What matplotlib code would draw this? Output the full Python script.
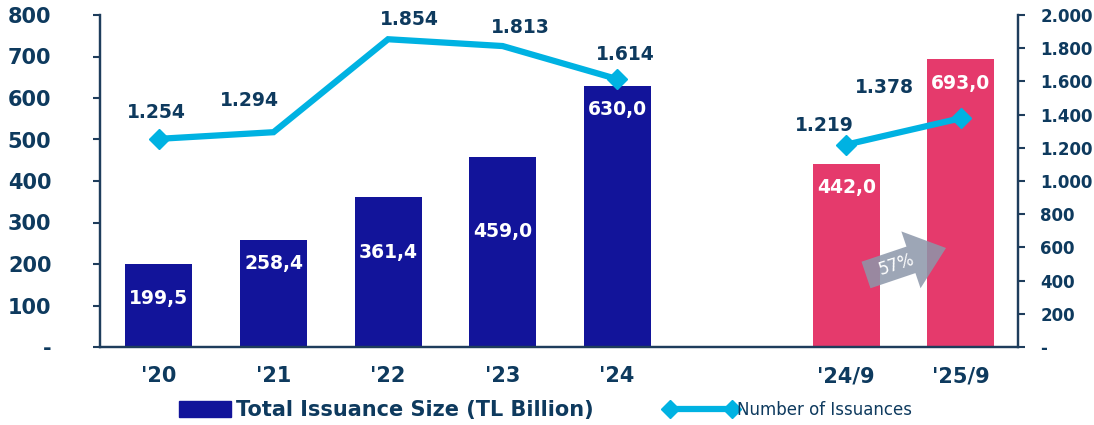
import matplotlib
matplotlib.use("Agg")
import matplotlib.pyplot as plt
from matplotlib.lines import Line2D
from matplotlib.patches import Patch, FancyArrow
from matplotlib.ticker import FixedLocator, FuncFormatter
import numpy as np

# ---- data ----
categories = ["'20", "'21", "'22", "'23", "'24", "'24/9", "'25/9"]
issuance_size = [199.5, 258.4, 361.4, 459.0, 630.0, 442.0, 693.0]
issuance_count = [1254, 1294, 1854, 1813, 1614, 1219, 1378]
annual_idx = [0, 1, 2, 3, 4]
ytd_idx = [5, 6]
growth_label = "57%"
bar_legend = "Total Issuance Size (TL Billion)"
line_legend = "Number of Issuances"

# ---- style ----
NAVY = "#12149A"
PINK = "#E53A6C"
CYAN = "#00B2E2"
TXT = "#0E3A5E"
SPINE = "#1E3D5C"

positions = [0, 1, 2, 3, 4, 6, 7]
bar_colors = [NAVY] * 5 + [PINK] * 2
# label offsets (points, from bar top) for bar value labels
bar_lbl_off = [-25, -17, -40, -54, -17, -17, -17]
# label offsets (points) for line labels
line_lbl_off = [(-2, 19), (-17, 23), (15, 14), (13, 13), (6, 18), (-16, 14), (-55, 22)]

W, H = 1094, 425
fig = plt.figure(figsize=(W / 100, H / 100), dpi=100)
ax = fig.add_axes([100 / W, 1 - 347 / H, (1018 - 100) / W, (347 - 15) / H])
ax2 = ax.twinx()

bars = ax.bar(positions, issuance_size, width=0.585, color=bar_colors, zorder=2)
ax.set_xlim(-0.515, 7.5)
ax.set_ylim(0, 800)
ax2.set_ylim(0, 2000)

for p, v, off in zip(positions, issuance_size, bar_lbl_off):
    ax.annotate(f"{v:.1f}".replace(".", ","), (p, v), xytext=(0, off),
                textcoords="offset points", ha="center", va="center",
                color="white", fontsize=13.5, fontweight="bold", zorder=5)

# line segments
for idx in (annual_idx, ytd_idx):
    xs = [positions[i] for i in idx]
    ys = [issuance_count[i] for i in idx]
    ax2.plot(xs, ys, color=CYAN, lw=4.5, marker="D", markersize=10,
             markevery=[0, len(xs) - 1], zorder=4, solid_joinstyle="miter")

for p, v, off in zip(positions, issuance_count, line_lbl_off):
    ax2.annotate(f"{v:,}".replace(",", "."), (p, v), xytext=off,
                 textcoords="offset points", ha="center", va="center",
                 color=TXT, fontsize=13.5, fontweight="bold")

# axes styling
for a in (ax, ax2):
    a.spines["top"].set_visible(False)
    for s in ("left", "right", "bottom"):
        a.spines[s].set_color(SPINE)
        a.spines[s].set_linewidth(1.6)

ax.set_xticks(positions)
ax.set_xticklabels(categories)
ax.tick_params(axis="x", length=0, pad=14, labelsize=15, labelcolor=TXT)
for t in ax.get_xticklabels():
    t.set_fontweight("bold")

ax.yaxis.set_major_locator(FixedLocator(np.arange(0, 801, 100)))
ax.yaxis.set_major_formatter(FuncFormatter(lambda v, p: "-" if v == 0 else f"{int(v)}"))
ax.tick_params(axis="y", direction="out", length=5, width=1.5, color=SPINE,
               pad=30, labelsize=15, labelcolor=TXT)
for t in ax.get_yticklabels():
    t.set_fontweight("bold")
    t.set_horizontalalignment("right")

ax2.yaxis.set_major_locator(FixedLocator(np.arange(0, 2001, 200)))
ax2.yaxis.set_major_formatter(FuncFormatter(lambda v, p: "-" if v == 0 else f"{int(v):,}".replace(",", ".")))
ax2.tick_params(axis="y", direction="out", length=5, width=1.5, color=SPINE,
                pad=11, labelsize=12, labelcolor=TXT)
for t in ax2.get_yticklabels():
    t.set_fontweight("bold")

# growth arrow (in inches from bottom-left of figure)
arr = FancyArrow(8.66, 1.50, 0.80, 0.27, width=0.28, head_width=0.60,
                 head_length=0.37, length_includes_head=True,
                 transform=fig.dpi_scale_trans, color="#8C97AA", alpha=0.85,
                 lw=0, zorder=10)
fig.add_artist(arr)
fig.text(8.97, 1.60, growth_label, transform=fig.dpi_scale_trans, rotation=18,
         ha="center", va="center", color="white", fontsize=12, zorder=11)

# legends
leg1 = fig.legend(handles=[Patch(color=NAVY, label=bar_legend)], loc="center left",
                  bbox_to_anchor=(160 / W, 1 - 410 / H), frameon=False,
                  handlelength=2.5, handleheight=0.8, handletextpad=0.25,
                  prop={"size": 15, "weight": "bold"})
for t in leg1.get_texts():
    t.set_color(TXT)
leg2 = fig.legend(handles=[Line2D([0], [0], color=CYAN, lw=4.5, marker="D",
                                  markersize=9, label=line_legend)],
                  loc="center left", bbox_to_anchor=(650 / W, 1 - 410 / H),
                  frameon=False, numpoints=2, handlelength=4.3,
                  handletextpad=0.0, prop={"size": 12})
for t in leg2.get_texts():
    t.set_color(TXT)

fig.savefig("out.png", dpi=100)
